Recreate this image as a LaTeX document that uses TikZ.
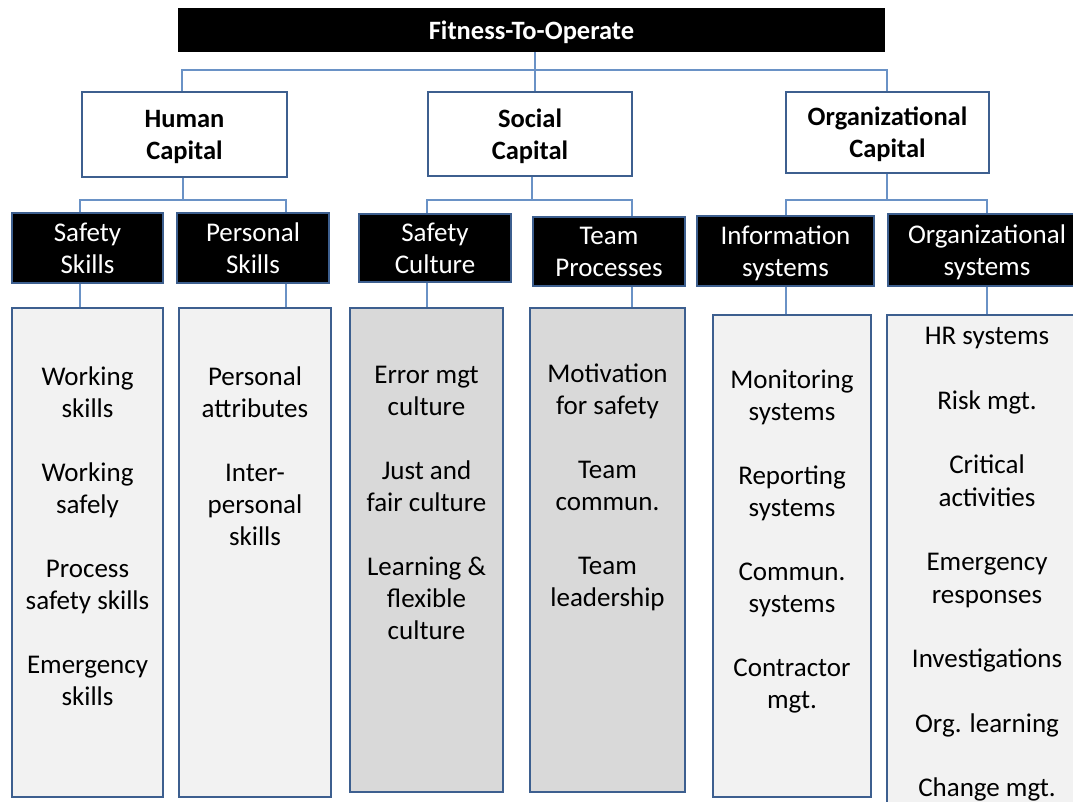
\documentclass[tikz,border=0pt]{standalone}
\usepackage{fontspec}
\setmainfont{Carlito}
\definecolor{bord}{HTML}{3D5F8F}
\definecolor{connc}{HTML}{6A92C6}
\definecolor{lightbox}{HTML}{F2F2F2}
\definecolor{darkbox}{HTML}{D9D9D9}
\newcommand\st{\rule[-6.6pt]{0pt}{32pt}}
\begin{document}
\begin{tikzpicture}[x=1pt,y=-1pt,
  txt/.style={font=\fontsize{27}{32}\selectfont, align=center, inner sep=0pt},
  txtb/.style={font=\fontsize{27}{32.3}\selectfont, align=center, inner sep=0pt},
  base/.style={rectangle, inner sep=0pt, align=center, font=\fontsize{27}{32}\selectfont},
  topbar/.style={base, fill=black, text=white, font=\fontsize{26.5}{32}\selectfont\bfseries},
  capbox/.style={base, draw=bord, line width=2.2pt, fill=white, font=\fontsize{26.5}{32}\selectfont\bfseries},
  blackbox/.style={base, draw=bord, line width=2.2pt, fill=black, text=white},
  lightcontent/.style={rectangle, draw=bord, line width=2.2pt, fill=lightbox},
  darkcontent/.style={rectangle, draw=bord, line width=2.2pt, fill=darkbox},
  conn/.style={draw=connc, line width=1.3pt}
]
\useasboundingbox (0,0) rectangle (1073,801);

% top
\node[topbar, minimum width=707pt, minimum height=44pt] (top) at (531.5,30) {\st Fitness-To-Operate};

% capitals
\node[capbox, minimum width=205pt, minimum height=85pt] (hc) at (184.5,134.5) {\st Human\\\st Capital};
\node[capbox, minimum width=204pt, minimum height=84pt] (sc) at (530,134) {\st Social\\\st Capital};
\node[capbox, minimum width=203pt, minimum height=81pt] (oc) at (887.5,132.5) {\st Organizational\\\st Capital};

% black boxes
\node[blackbox, minimum width=151pt, minimum height=70pt] (ss) at (87.5,248) {\st Safety\\\st Skills};
\node[blackbox, minimum width=152pt, minimum height=70pt] (ps) at (253,248) {\st Personal\\\st Skills};
\node[blackbox, minimum width=152pt, minimum height=68pt] (scu) at (435,248) {\st Safety\\\st Culture};
\node[blackbox, minimum width=152pt, minimum height=69pt] (tp) at (609,251.5) {\st Team\\\st Processes};
\node[blackbox, minimum width=177pt, minimum height=70pt] (is) at (785.5,251) {\st Information\\\st systems};
\node[blackbox, minimum width=198pt, minimum height=72pt] (os) at (987,250) {\st Organizational\\\st systems};

% content boxes
\node[lightcontent, minimum width=151pt, minimum height=489pt] (c1) at (87.5,552.5) {};
\node[lightcontent, minimum width=152pt, minimum height=489pt] (c2) at (255,552.5) {};
\node[darkcontent, minimum width=153pt, minimum height=484pt] (c3) at (426.5,550) {};
\node[darkcontent, minimum width=155pt, minimum height=484pt] (c4) at (607.5,550) {};
\node[lightcontent, minimum width=158pt, minimum height=482pt] (c5) at (792,556) {};
\node[lightcontent, minimum width=200pt, minimum height=520pt] (c6) at (987,575) {};

% content texts
\node[txt, anchor=north] (t1) at (87.5,360) {\st Working\\\st skills\\\st\\\st Working\\\st safely\\\st\\\st Process\\\st safety skills\\\st\\\st Emergency\\\st skills};
\node[txt, anchor=north] (t2) at (255,360) {\st Personal\\\st attributes\\\st\\\st Inter-\\\st personal\\\st skills};
\node[txt, anchor=north] (t3) at (426.5,358) {\st Error mgt\\\st culture\\\st\\\st Just and\\\st fair culture\\\st\\\st Learning \&\\\st flexible\\\st culture};
\node[txt, anchor=north] (t4) at (607.5,357) {\st Motivation\\\st for safety\\\st\\\st Team\\\st commun.\\\st\\\st Team\\\st leadership};
\node[txt, anchor=north] (t5) at (792,363) {\st Monitoring\\\st systems\\\st\\\st Reporting\\\st systems\\\st\\\st Commun.\\\st systems\\\st\\\st Contractor\\\st mgt.};
\node[txtb, anchor=north] (t6) at (987,319) {\st HR systems\\\st\\\st Risk mgt.\\\st\\\st Critical\\\st activities\\\st\\\st Emergency\\\st responses\\\st\\\st Investigations\\\st\\\st Org. learning\\\st\\\st Change mgt.};

% level 1 connectors
\coordinate (j0) at (535,70);
\coordinate (jl) at (182,70);
\coordinate (jr) at (887,70);
\draw[conn] (top.south -| j0) -- (j0) -- (j0 |- sc.north);
\draw[conn] (jl |- hc.north) -- (jl) -- (jr) -- (jr |- oc.north);

% level 2 connectors: human
\coordinate (h0) at (183,200);
\coordinate (hl) at (80,200);
\coordinate (hr) at (286,200);
\draw[conn] (h0 |- hc.south) -- (h0);
\draw[conn] (hl |- ss.north) -- (hl) -- (hr) -- (hr |- ps.north);
\draw[conn] (hl |- ss.south) -- (hl |- c1.north);
\draw[conn] (hr |- ps.south) -- (hr |- c2.north);

% social
\coordinate (s0) at (532,200);
\coordinate (sl) at (427,200);
\coordinate (sr) at (632,200);
\draw[conn] (s0 |- sc.south) -- (s0);
\draw[conn] (sl |- scu.north) -- (sl) -- (sr) -- (sr |- tp.north);
\draw[conn] (sl |- scu.south) -- (sl |- c3.north);
\draw[conn] (sr |- tp.south) -- (sr |- c4.north);

% organizational
\coordinate (o0) at (887,200);
\coordinate (ol) at (786,200);
\coordinate (or) at (987,200);
\draw[conn] (o0 |- oc.south) -- (o0);
\draw[conn] (ol |- is.north) -- (ol) -- (or) -- (or |- os.north);
\draw[conn] (ol |- is.south) -- (ol |- c5.north);
\draw[conn] (or |- os.south) -- (or |- c6.north);
\end{tikzpicture}
\end{document}
